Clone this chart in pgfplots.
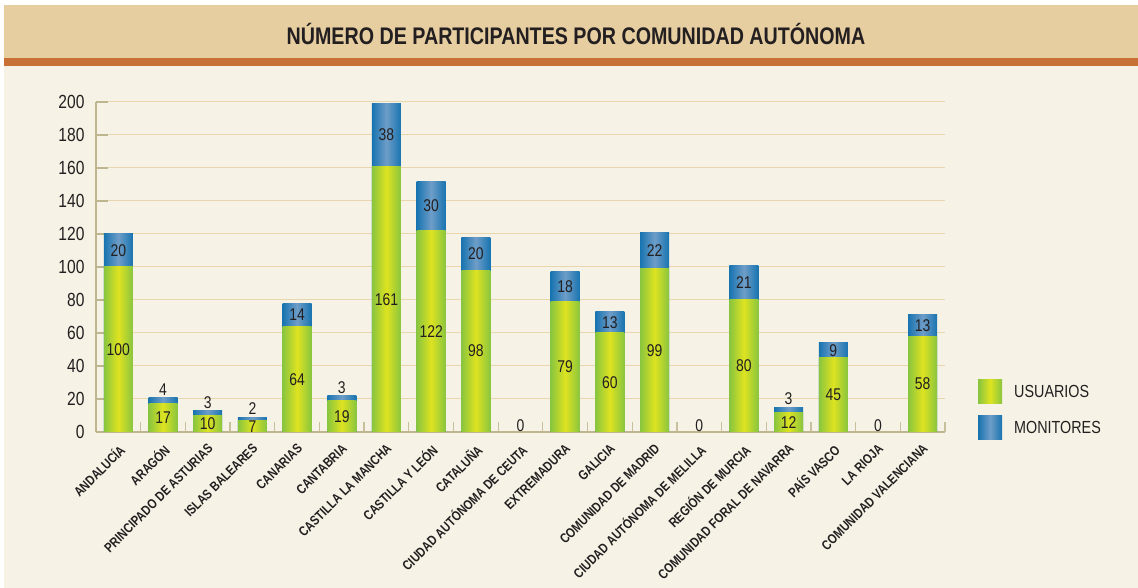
\documentclass[border=0pt]{standalone}
\usepackage{fontspec}
\setmainfont{Liberation Sans}[FakeStretch=0.82]
\usepackage{pgfplots}
\pgfplotsset{compat=1.18}
\usepackage{pgfplotstable}
\definecolor{bgc}{HTML}{F6F3E6}
\definecolor{bannerc}{HTML}{E6CEA1}
\definecolor{linec}{HTML}{C87137}
\definecolor{gridc}{HTML}{E8D7AC}
\definecolor{axc}{HTML}{BDB68E}
\definecolor{tickc}{HTML}{C8BF9C}
\definecolor{gEdge}{HTML}{89C53F}
\definecolor{gMid}{HTML}{DEE320}
\definecolor{bEdge}{HTML}{1874B0}
\definecolor{bMid}{HTML}{6E9DC8}
\definecolor{txt}{HTML}{231F20}

\pgfplotstableread{
x u m
0 100 20
1 17 4
2 10 3
3 7 2
4 64 14
5 19 3
6 161 38
7 122 30
8 98 20
9 0 0
10 79 18
11 60 13
12 99 22
13 0 0
14 80 21
15 12 3
16 45 9
17 0 0
18 58 13
}\datatable

\pgfplotstableread{
x y lab
0 50 100
1 8.5 17
2 5 10
3 3.5 7
4 32 64
5 9.5 19
6 80.5 161
7 61 122
8 49 98
9 4 0
10 39.5 79
11 30 60
12 49.5 99
13 4 0
14 40 80
15 6 12
16 22.5 45
17 4 0
18 29 58
}\greenlab

\pgfplotstableread{
x y lab
0 110 20
4 71 14
6 180 38
7 137 30
8 108 20
10 88 18
11 66.5 13
12 110 22
14 90.5 21
16 49.5 9
18 64.5 13
}\bluein

\pgfplotstableread{
x y lab
1 21 4
2 13 3
3 9 2
5 22 3
15 15 3
}\blueabove

\pgfplotsset{
  mylegend/.style={legend image code/.code={\path[##1,draw=none] (0pt,-12pt) rectangle (24pt,12pt);}},
  baseaxis/.style={
    at={(96pt,156pt)}, anchor=south west, scale only axis,
    width=849pt, height=330pt,
    xmin=-0.5, xmax=18.5, ymin=0, ymax=200,
  },
  gshade/.style={draw=none, left color=gEdge, right color=gEdge, middle color=gMid},
  bshade/.style={draw=none, left color=bEdge, right color=bEdge, middle color=bMid},
}

\begin{document}
\begin{tikzpicture}
\fill[white] (0,0) rectangle (1138pt,588pt);
\path[use as bounding box] (0,0) rectangle (1138pt,588pt);
\fill[bgc] (4pt,0) rectangle (1138pt,522pt);
\fill[bannerc] (4pt,530pt) rectangle (1138pt,583pt);
\fill[linec] (4pt,522pt) rectangle (1138pt,530pt);
\node[font=\fontsize{24}{26}\selectfont\bfseries, text=txt] at (576pt,554pt) {NÚMERO DE PARTICIPANTES POR COMUNIDAD AUTÓNOMA};

\begin{axis}[baseaxis,
  ybar, bar width=29pt,
  axis x line*=bottom, axis y line*=left,
  axis line style={draw=axc, line width=1.5pt},
  x axis line style={line width=2.5pt},
  ytick={0,20,...,200},
  xtick={0,...,18},
  minor xtick={0.5,1.5,...,18.5},
  tick align=inside,
  major tick length=12pt, minor tick length=10pt,
  major x tick style={draw=none},
  minor x tick style={draw=tickc, line width=1.3pt},
  major y tick style={draw=axc, line width=1.3pt},
  ymajorgrids, grid style={draw=gridc, line width=1pt},
  yticklabel style={font=\fontsize{19}{21}\selectfont, text=txt, anchor=east, xshift=-8pt},
  /pgf/number format/assume math mode=true,
  xticklabels={ANDALUCÍA, ARAGÓN, PRINCIPADO DE ASTURIAS, ISLAS BALEARES, CANARIAS, CANTABRIA, CASTILLA LA MANCHA, CASTILLA Y LEÓN, CATALUÑA, CIUDAD AUTÓNOMA DE CEUTA, EXTREMADURA, GALICIA, COMUNIDAD DE MADRID, CIUDAD AUTÓNOMA DE MELILLA, REGIÓN DE MURCIA, COMUNIDAD FORAL DE NAVARRA, PAÍS VASCO, LA RIOJA, COMUNIDAD VALENCIANA},
  xticklabel style={font=\fontsize{13.5}{15}\selectfont\bfseries, text=txt, rotate=45, anchor=north east, inner sep=1pt, xshift=-7pt, yshift=-6pt},
  legend style={at={(1,0)}, anchor=south west, xshift=33pt, yshift=-8pt, draw=none, fill=none, inner sep=0pt, row sep=12pt, font=\fontsize{17.5}{19}\selectfont, text=txt, nodes={inner sep=2pt}},
  legend cell align=left,
]
\pgfplotsinvokeforeach{0,1,2,3,4,5,6,7,8,10,11,12,14,15,16,18}{
  \addplot[bshade, bar shift=0pt, forget plot, restrict x to domain=#1:#1]
    table[x=x, y expr=\thisrow{u}+\thisrow{m}] {\datatable};
  \addplot[gshade, bar shift=0pt, forget plot, restrict x to domain=#1:#1]
    table[x=x, y=u] {\datatable};
}
\addlegendimage{gshade, mylegend}
\addlegendentry{\hspace{10pt}USUARIOS}
\addlegendimage{bshade, mylegend}
\addlegendentry{\hspace{10pt}MONITORES}
\end{axis}

\begin{axis}[baseaxis, hide axis]
\addplot[only marks, mark=none, nodes near coords, point meta=explicit symbolic,
  every node near coord/.append style={anchor=center, font=\fontsize{17}{19}\selectfont, text=txt}]
  table[x=x, y=y, meta=lab] {\greenlab};
\addplot[only marks, mark=none, nodes near coords, point meta=explicit symbolic,
  every node near coord/.append style={anchor=center, font=\fontsize{17}{19}\selectfont, text=txt}]
  table[x=x, y=y, meta=lab] {\bluein};
\addplot[only marks, mark=none, nodes near coords, point meta=explicit symbolic,
  every node near coord/.append style={anchor=south, inner sep=2pt, font=\fontsize{17}{19}\selectfont, text=txt}]
  table[x=x, y=y, meta=lab] {\blueabove};
\end{axis}
\end{tikzpicture}
\end{document}
